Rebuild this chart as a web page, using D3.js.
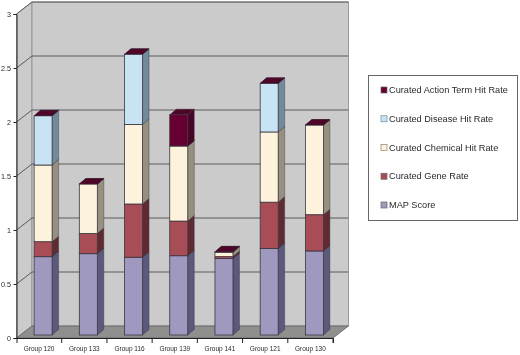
<!DOCTYPE html>
<html>
<head>
<meta charset="utf-8">
<script src="https://cdn.jsdelivr.net/npm/d3@7"></script>
<style>
  html, body { margin: 0; padding: 0; background: #fff; }
  svg { display: block; filter: blur(0.35px); }
  text { font-family: "Liberation Sans", Arial, sans-serif; fill: #2a2a2a; }
</style>
</head>
<body>
<svg id="chart" width="520" height="355"></svg>
<script>
const groups = ['Group 120', 'Group 133', 'Group 116', 'Group 139', 'Group 141', 'Group 121', 'Group 130'];
const seriesNames = ['MAP Score', 'Curated Gene Rate', 'Curated Chemical Hit Rate', 'Curated Disease Hit Rate', 'Curated Action Term Hit Rate'];
const mapScore = [0.725, 0.753, 0.72, 0.734, 0.708, 0.8, 0.778];
const geneRate = [0.139, 0.187, 0.493, 0.321, 0.018, 0.43, 0.336];
const chemicalRate = [0.71, 0.458, 0.737, 0.695, 0.04, 0.65, 0.83];
const diseaseRate = [0.456, 0, 0.65, 0, 0.004, 0.45, 0];
const actionRate = [0, 0, 0, 0.29, 0, 0, 0];
const yTicks = [0, 0.5, 1, 1.5, 2, 2.5, 3];

const frontColors = ['#9f99c0', '#a84d55', '#fdf2dc', '#c8e3f3', '#660033'];
const sideColors = ['#5b5a7c', '#5f2a30', '#97907f', '#718a9c', '#4a0526'];
const topColors = ['#7d7aa0', '#7a3a40', '#c8c0ae', '#9ab8c8', '#4f0528'];

const rows = groups.map((g, i) => ({
  group: g,
  [seriesNames[0]]: mapScore[i],
  [seriesNames[1]]: geneRate[i],
  [seriesNames[2]]: chemicalRate[i],
  [seriesNames[3]]: diseaseRate[i],
  [seriesNames[4]]: actionRate[i],
}));
const stacked = d3.stack().keys(seriesNames)(rows);

const svg = d3.select('#chart');

// 3d offsets
const wallDx = 15.5, wallDy = -12;
const barDx = 6.5, barDy = -5.5;
const barShiftX = 4, barShiftY = -3;
const barW = 18;

const x = d3.scaleBand().domain(groups).range([16.5, 333]);
const y = d3.scaleLinear().domain([0, 3]).range([338, 14]);
const bx = g => x(g) + x.bandwidth() / 2 - barW / 2 + barShiftX;

const poly = pts => 'M' + pts.map(p => p.join(',')).join('L') + 'Z';

// walls and floor
const x0 = x.range()[0], x1 = x.range()[1];
const y0 = y(0), y3 = y(3);
svg.append('path')
  .attr('d', poly([[x0, y0], [x0 + wallDx, y0 + wallDy], [x0 + wallDx, y3 + wallDy], [x0, y3]]))
  .attr('fill', '#cbcbcb').attr('stroke', '#8a8a8a').attr('stroke-width', 0.8);
svg.append('rect')
  .attr('x', x0 + wallDx).attr('y', y3 + wallDy)
  .attr('width', x1 - x0).attr('height', y0 - y3)
  .attr('fill', '#cbcbcb').attr('stroke', '#8a8a8a').attr('stroke-width', 0.8);
svg.append('path')
  .attr('d', poly([[x0, y0], [x1, y0], [x1 + wallDx, y0 + wallDy], [x0 + wallDx, y0 + wallDy]]))
  .attr('fill', '#8f8f8d').attr('stroke', '#5f5f5f').attr('stroke-width', 0.8);

// gridlines, running up the side wall and across the back
const grid = svg.append('g');
yTicks.filter(t => t > 0).forEach(t => {
  grid.append('path')
    .attr('d', `M${x0},${y(t)}L${x0 + wallDx},${y(t) + wallDy}L${x1 + wallDx},${y(t) + wallDy}`)
    .attr('fill', 'none').attr('stroke', '#5a5a5a').attr('stroke-width', 1);
});

// bars, one stacked layer at a time
const base = v => y(v) + barShiftY;
stacked.forEach((layer, si) => {
  const g = svg.append('g').attr('class', 'series');
  layer.forEach(d => {
    const name = d.data.group;
    const left = bx(name), right = left + barW;
    const lo = base(d[0]), hi = base(d[1]);
    g.append('path')
      .attr('d', poly([[right, lo], [right + barDx, lo + barDy], [right + barDx, hi + barDy], [right, hi]]))
      .attr('fill', sideColors[si]).attr('stroke', '#33303f').attr('stroke-width', 0.4);
    g.append('path')
      .attr('d', poly([[left, hi], [right, hi], [right + barDx, hi + barDy], [left + barDx, hi + barDy]]))
      .attr('fill', si >= 3 ? topColors[4] : topColors[si]).attr('stroke', '#33303f').attr('stroke-width', 0.4);
    g.append('rect')
      .attr('x', left).attr('y', hi)
      .attr('width', barW).attr('height', Math.max(0, lo - hi))
      .attr('fill', frontColors[si]).attr('stroke', '#3a3540').attr('stroke-width', 0.8);
  });
});

// axes
const yAxis = d3.axisLeft(y).tickValues(yTicks).tickFormat(d3.format('')).tickSize(3).tickPadding(2.5);
const gy = svg.append('g').attr('transform', `translate(${x0},0)`).call(yAxis);
const xAxis = d3.axisBottom(x).tickSize(5).tickSizeOuter(5).tickPadding(3);
const gx = svg.append('g').attr('transform', `translate(0,${y0})`).call(xAxis);
gx.selectAll('.tick line').attr('transform', `translate(${x.bandwidth() / 2},0)`);
[gy, gx].forEach(a => {
  a.selectAll('.domain, line').attr('stroke', '#222').attr('stroke-width', 1);
  a.selectAll('text').attr('font-family', '"Liberation Sans", Arial, sans-serif').attr('fill', '#2a2a2a');
});
gy.selectAll('text').attr('font-size', 7.2);
gx.selectAll('text').attr('font-size', 6.5);

// legend
const legend = svg.append('g');
legend.append('rect')
  .attr('x', 368.5).attr('y', 75.5).attr('width', 149).attr('height', 145)
  .attr('fill', '#fff').attr('stroke', '#666').attr('stroke-width', 1);
const legendY = d3.scalePoint().domain(seriesNames.slice().reverse()).range([90, 205]);
seriesNames.forEach((n, i) => {
  const row = legend.append('g').attr('transform', `translate(381,${legendY(n)})`);
  row.append('rect')
    .attr('x', 0).attr('y', -3).attr('width', 6).attr('height', 6)
    .attr('fill', frontColors[i]).attr('stroke', i === 2 ? '#8a8470' : i === 3 ? '#6f8a9a' : '#666').attr('stroke-width', 0.7);
  row.append('text').attr('x', 8).attr('y', 3.2).attr('font-size', 9.2).text(n);
});
</script>
</body>
</html>
